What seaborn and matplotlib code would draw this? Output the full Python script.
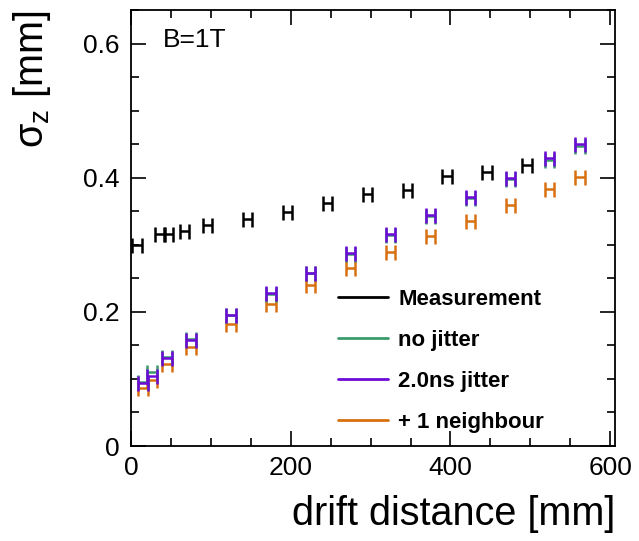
import numpy as np
import matplotlib
matplotlib.use("Agg")
import matplotlib.pyplot as plt
import seaborn as sns
from matplotlib.ticker import MultipleLocator
from matplotlib.lines import Line2D

# ---- data ----
meas_x = [7.5, 36, 47, 67, 96, 146, 196, 246, 296, 346, 396, 446, 496]
meas_y = [0.299, 0.316, 0.316, 0.320, 0.329, 0.338, 0.349, 0.362, 0.375, 0.381, 0.403, 0.409, 0.419]

sim_x = [15, 26, 45, 75, 125, 175, 225, 275, 325, 375, 425, 475, 524, 562]
nojit_y = [0.096, 0.111, 0.133, 0.159, 0.196, 0.227, 0.258, 0.286, 0.314, 0.343, 0.370, 0.398, 0.427, 0.447]
jit_y = [0.094, 0.104, 0.131, 0.158, 0.196, 0.228, 0.258, 0.287, 0.316, 0.344, 0.371, 0.399, 0.429, 0.450]
neigh_y = [0.086, 0.099, 0.122, 0.148, 0.182, 0.212, 0.240, 0.265, 0.289, 0.313, 0.336, 0.359, 0.383, 0.401]

labels = ["Measurement", "no jitter", "2.0ns jitter", "+ 1 neighbour"]
colors = ["#000000", "#3a9a6c", "#6c0ad8", "#d8700f"]
x_err = 6.0

sns.set_style("ticks")
plt.rcParams['font.family'] = ['Liberation Sans', 'DejaVu Sans']
plt.rcParams['text.color'] = 'black'
plt.rcParams['axes.labelcolor'] = 'black'
plt.rcParams['xtick.color'] = 'black'
plt.rcParams['ytick.color'] = 'black'

fig = plt.figure(figsize=(6.39, 5.41), dpi=100)
ax = fig.add_axes([131/639, 1-446/541, (615-131)/639, (446-10)/541])

series = [(meas_x, meas_y, colors[0]),
          (sim_x, neigh_y, colors[3]),
          (sim_x, nojit_y, colors[1]),
          (sim_x, jit_y, colors[2])]
for xs, ys, c in series:
    ax.errorbar(xs, ys, xerr=x_err, fmt='none', ecolor=c, elinewidth=1.8,
                capsize=5.4, capthick=1.8)

ax.set_xlim(0, 606)
ax.set_ylim(0, 0.65)
ax.xaxis.set_major_locator(MultipleLocator(200))
ax.xaxis.set_minor_locator(MultipleLocator(50))
ax.yaxis.set_minor_locator(MultipleLocator(0.05))
ax.set_yticks([0, 0.2, 0.4, 0.6])
ax.set_yticklabels(["0", "0.2", "0.4", "0.6"])
ax.tick_params(which='both', direction='in', top=True, right=True,
               labelsize=19, width=1.2, color='black', labelcolor='black')
ax.tick_params(axis='y', pad=8)
ax.tick_params(axis='x', pad=7)
ax.tick_params(which='major', length=11)
ax.tick_params(which='minor', length=6)
for s in ax.spines.values():
    s.set_linewidth(1.3)
    s.set_color('black')

ax.set_xlabel("drift distance [mm]", loc='right', fontsize=28.5, labelpad=11)
ax.set_ylabel(r"$\mathregular{σ_z}$ [mm]", loc='top', fontsize=28.5, labelpad=22)

ax.text(163, 541 - 40, "B=1T", transform=None, fontsize=19,
        ha='left', va='center')

handles = [Line2D([0], [0], color=c, lw=2) for c in colors]
leg = ax.legend(handles, labels, loc='upper left', frameon=False,
                bbox_to_anchor=(338/639, 1-289/541), bbox_transform=fig.transFigure,
                borderaxespad=0, borderpad=0,
                handlelength=2.25, handletextpad=0.45,
                labelspacing=0.9, prop={'size': 16, 'weight': 'bold'})

fig.savefig("out.png", dpi=100)
